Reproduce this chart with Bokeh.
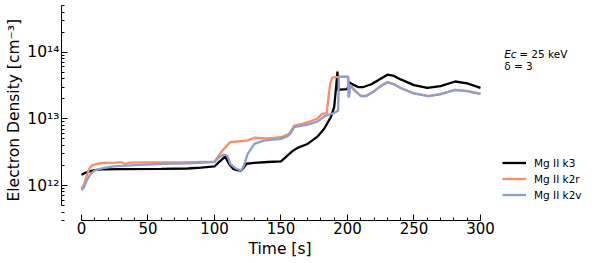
from bokeh.plotting import figure
from bokeh.models import (Range1d, FixedTicker, CustomJSTickFormatter, Legend,
                          LegendItem, Label, Title)
from bokeh.embed import file_html
from bokeh.resources import INLINE

# ---- data ----
t_k3 = [0, 3, 6, 10, 15, 30, 60, 80, 90, 100, 104, 108, 111, 114, 117, 120, 122,
        124, 130, 140, 150, 153.6, 158.6, 162.4, 170, 177.4, 182.5, 187.5, 190,
        191.2, 192.5, 193.2, 194.5, 200, 201.3, 205, 208, 212, 218, 224, 230, 235,
        240, 250, 260, 270, 281, 290, 300]
n_k3 = [1.45e12, 1.55e12, 1.63e12, 1.70e12, 1.74e12, 1.76e12, 1.78e12, 1.80e12,
        1.86e12, 1.93e12, 2.30e12, 2.72e12, 2.10e12, 1.78e12, 1.70e12, 1.68e12,
        1.85e12, 2.12e12, 2.18e12, 2.25e12, 2.30e12, 2.66e12, 3.27e12, 3.67e12,
        4.20e12, 5.40e12, 7.10e12, 1.06e13, 1.50e13, 2.66e13, 5.10e13, 2.66e13,
        2.75e13, 2.80e13, 3.55e13, 3.20e13, 3.00e13, 3.00e13, 3.30e13, 3.90e13,
        4.60e13, 4.40e13, 3.90e13, 3.20e13, 2.92e13, 3.10e13, 3.63e13, 3.40e13,
        2.92e13]

t_k2r = [0, 2, 4, 6, 8, 12, 17, 25, 30, 33, 36, 50, 75, 100, 102, 105, 108, 112,
         118, 125, 130, 140, 150, 155, 157, 160, 165, 170, 177, 181, 184.5, 185.7,
         187, 188.7, 195, 200.5, 201, 202, 203, 206, 210, 214, 220, 225, 230, 235,
         240, 250, 261, 270, 281, 290, 300]
n_k2r = [9.0e11, 1.05e12, 1.40e12, 1.80e12, 2.00e12, 2.12e12, 2.19e12, 2.20e12,
         2.23e12, 2.10e12, 2.20e12, 2.22e12, 2.22e12, 2.28e12, 2.60e12, 3.16e12,
         3.70e12, 4.47e12, 4.60e12, 4.75e12, 5.20e12, 5.10e12, 5.30e12, 5.80e12,
         6.30e12, 7.90e12, 8.30e12, 8.90e12, 1.00e13, 1.19e13, 1.22e13, 2.10e13,
         3.35e13, 4.20e13, 4.25e13, 4.25e13, 2.10e13, 3.20e13, 3.00e13, 2.60e13,
         2.20e13, 2.20e13, 2.60e13, 3.10e13, 3.55e13, 3.30e13, 2.90e13, 2.40e13,
         2.19e13, 2.35e13, 2.72e13, 2.60e13, 2.37e13]

t_k2v = [0, 2, 4, 7, 10, 15, 24.5, 40, 62, 80, 100, 103, 106, 108.5, 110, 112, 116,
         120, 122, 125, 130, 137, 140, 150, 155, 157, 160, 170, 177.4, 183.7, 190,
         193, 193.5, 200.5, 201, 202, 203, 206, 210, 214, 220, 225, 230, 235, 240,
         250, 261, 270, 281, 290, 300]
n_k2v = [8.5e11, 9.5e11, 1.19e12, 1.50e12, 1.68e12, 1.80e12, 1.93e12, 2.02e12,
         2.12e12, 2.15e12, 2.24e12, 2.60e12, 2.85e12, 2.90e12, 2.70e12, 2.10e12,
         1.80e12, 1.68e12, 1.95e12, 2.99e12, 4.20e12, 4.70e12, 4.80e12, 5.00e12,
         5.50e12, 5.95e12, 7.50e12, 8.20e12, 9.10e12, 1.12e13, 1.22e13, 1.33e13,
         4.30e13, 4.30e13, 2.10e13, 3.20e13, 3.00e13, 2.60e13, 2.20e13, 2.20e13,
         2.60e13, 3.10e13, 3.55e13, 3.30e13, 2.90e13, 2.40e13, 2.19e13, 2.35e13,
         2.72e13, 2.60e13, 2.37e13]

x_ticks = [0, 50, 100, 150, 200, 250, 300]
x_minor = list(range(0, 301, 10))
y_ticks = [1e12, 1e13, 1e14]
y_minor = [m * 10.0 ** e for e in (11, 12, 13, 14) for m in range(2, 10)]
legend_labels = ["Mg II k3", "Mg II k2r", "Mg II k2v"]
colors = ["#000000", "#fc8d62", "#8da0cb"]

FONT = "DejaVu Sans"

p = figure(width=582, height=258, output_backend="svg", toolbar_location=None,
           y_axis_type="log",
           x_range=Range1d(-15.0, 376.7), y_range=Range1d(10 ** 11.475, 10 ** 14.70),
           min_border_left=61, min_border_right=0, min_border_top=5,
           min_border_bottom=38)
p.outline_line_color = None
p.grid.visible = False
p.background_fill_color = "white"

xa = p.xaxis[0]
xa.bounds = (0, 300)
xa.ticker = FixedTicker(ticks=x_ticks, minor_ticks=x_minor)
ya = p.yaxis[0]
ya.bounds = (10 ** 11.70, 10 ** 14.70)
ya.ticker = FixedTicker(ticks=y_ticks, minor_ticks=y_minor)
ya.formatter = CustomJSTickFormatter(code="""
const sup = {'0':'\u2070','1':'\u00b9','2':'\u00b2','3':'\u00b3','4':'\u2074','5':'\u2075','6':'\u2076','7':'\u2077','8':'\u2078','9':'\u2079','-':'\u207b'};
const e = Math.round(Math.log10(tick));
return '10' + String(e).split('').map(c => sup[c]).join('');
""")

for ax in (xa, ya):
    ax.axis_line_color = "black"
    ax.axis_line_width = 1
    ax.major_tick_in = 6
    ax.major_tick_out = 0
    ax.minor_tick_in = 3
    ax.minor_tick_out = 0
    ax.major_tick_line_color = "black"
    ax.minor_tick_line_color = "black"
    ax.major_label_text_font = FONT
    ax.major_label_text_color = "black"
xa.major_label_text_font_size = "15px"
ya.major_label_text_font_size = "15.5px"
xa.major_label_standoff = 1
ya.major_label_standoff = 2

xt = Title(text="Time [s]", align="left", offset=187, text_font=FONT,
           text_font_size="15.5px", text_font_style="normal", text_color="black",
           standoff=2)
p.add_layout(xt, "below")
yt = Title(text="Electron Density [cm\u207b\u00b3]", align="left", offset=19,
           text_font=FONT, text_font_size="15.5px", text_font_style="normal",
           text_color="black", standoff=4)
p.add_layout(yt, "left")

r1 = p.line(t_k3, n_k3, line_color=colors[0], line_width=2.3)
r2 = p.line(t_k2r, n_k2r, line_color=colors[1], line_width=2.3)
r3 = p.line(t_k2v, n_k2v, line_color=colors[2], line_width=2.3)

legend = Legend(items=[LegendItem(label=legend_labels[0], renderers=[r1]),
                       LegendItem(label=legend_labels[1], renderers=[r2]),
                       LegendItem(label=legend_labels[2], renderers=[r3])],
                location=(441, 18), padding=0, margin=0, spacing=1,
                glyph_width=24, glyph_height=15, label_height=15,
                label_standoff=8, border_line_alpha=0, background_fill_alpha=0,
                label_text_font=FONT, label_text_font_size="10.5px",
                label_text_color="black")
p.add_layout(legend)

ann_kw = dict(x_units="data", y_units="data", text_font=FONT,
              text_font_size="10.5px", text_color="black",
              text_baseline="alphabetic")
p.add_layout(Label(x=317.8, y=10 ** 13.966, text="Ec", text_font_style="italic", **ann_kw))
p.add_layout(Label(x=317.8, y=10 ** 13.966, x_offset=15, text="= 25 keV", **ann_kw))
p.add_layout(Label(x=317.8, y=10 ** 13.793, text="\u03b4 = 3", **ann_kw))

open("out.html", "w").write(file_html(p, INLINE))
